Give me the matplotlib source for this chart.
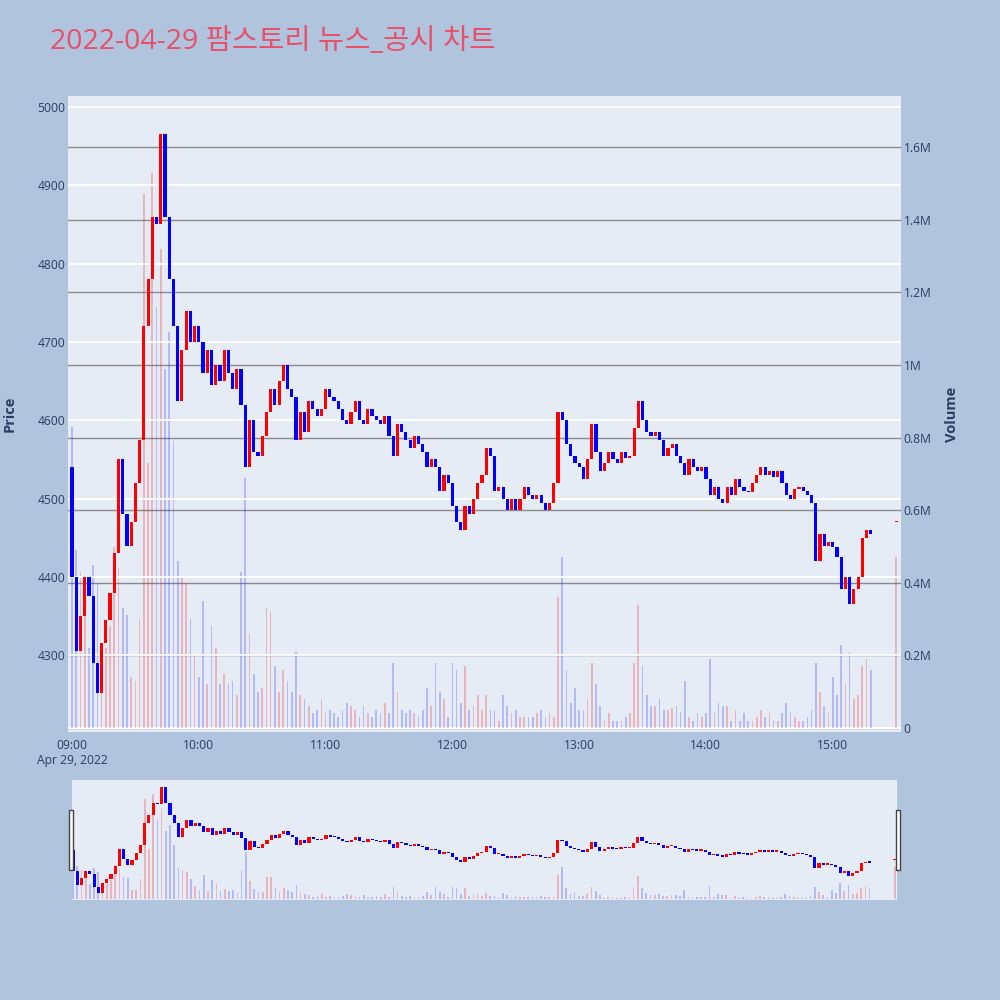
import numpy as np
import matplotlib
matplotlib.use('Agg')
import matplotlib.pyplot as plt
from matplotlib.ticker import FuncFormatter
from matplotlib.patches import Rectangle

plt.rcParams['font.family'] = ['Open Sans', 'Noto Sans CJK KR', 'DejaVu Sans']

# 2-minute candles, 09:00 .. 15:18
first_open = 4540
closes = [
    4400, 4305, 4350, 4400, 4375, 4290, 4252, 4315, 4345, 4380,
    4430, 4550, 4480, 4440, 4470, 4520, 4575, 4720, 4780, 4860,
    4850, 4965, 4860, 4780, 4720, 4625, 4690, 4740, 4700, 4720,
    4700, 4660, 4690, 4645, 4670, 4650, 4690, 4660, 4640, 4665,
    4620, 4540, 4600, 4560, 4555, 4580, 4610, 4640, 4620, 4650,
    4670, 4640, 4630, 4575, 4610, 4585, 4625, 4615, 4605, 4615,
    4640, 4630, 4625, 4615, 4600, 4595, 4610, 4625, 4600, 4595,
    4615, 4605, 4600, 4595, 4605, 4580, 4555, 4595, 4585, 4575,
    4565, 4580, 4570, 4560, 4540, 4550, 4540, 4510, 4530, 4520,
    4490, 4470, 4460, 4490, 4480, 4500, 4520, 4530, 4565, 4555,
    4510, 4515, 4500, 4485, 4500, 4485, 4500, 4515, 4505, 4500,
    4505, 4495, 4485, 4495, 4520, 4610, 4600, 4570, 4555, 4545,
    4540, 4525, 4550, 4595, 4560, 4535, 4545, 4560, 4550, 4545,
    4560, 4552, 4555, 4590, 4625, 4600, 4585, 4580, 4585, 4575,
    4555, 4565, 4570, 4555, 4545, 4530, 4550, 4540, 4535, 4540,
    4525, 4505, 4515, 4500, 4495, 4515, 4505, 4525, 4515, 4510,
    4508, 4520, 4530, 4540, 4530, 4535, 4528, 4535, 4520, 4505,
    4500, 4512, 4515, 4510, 4505, 4495, 4420, 4455, 4440, 4445,
    4438, 4425, 4385, 4400, 4365, 4385, 4400, 4450, 4460, 4455,
]
# volume in millions of shares
volumes = [
    0.83, 0.49, 0.43, 0.40, 0.22, 0.45, 0.40, 0.20, 0.22, 0.28,
    0.50, 0.44, 0.33, 0.31, 0.14, 0.13, 0.30, 1.47, 0.73, 1.53,
    1.16, 1.32, 0.99, 1.09, 0.79, 0.46, 0.42, 0.40, 0.30, 0.20,
    0.14, 0.35, 0.12, 0.28, 0.22, 0.12, 0.15, 0.12, 0.13, 0.09,
    0.43, 0.69, 0.26, 0.15, 0.10, 0.11, 0.33, 0.32, 0.17, 0.10,
    0.16, 0.13, 0.10, 0.21, 0.09, 0.08, 0.06, 0.04, 0.05, 0.08,
    0.04, 0.05, 0.04, 0.03, 0.05, 0.07, 0.06, 0.05, 0.03, 0.06,
    0.04, 0.03, 0.05, 0.04, 0.07, 0.04, 0.18, 0.10, 0.05, 0.04,
    0.05, 0.04, 0.03, 0.05, 0.11, 0.06, 0.18, 0.10, 0.08, 0.03,
    0.18, 0.16, 0.07, 0.17, 0.05, 0.06, 0.09, 0.05, 0.09, 0.05,
    0.05, 0.02, 0.09, 0.06, 0.04, 0.05, 0.03, 0.03, 0.03, 0.03,
    0.04, 0.05, 0.03, 0.04, 0.03, 0.36, 0.47, 0.16, 0.07, 0.11,
    0.05, 0.05, 0.08, 0.18, 0.12, 0.06, 0.02, 0.04, 0.02, 0.02,
    0.02, 0.03, 0.04, 0.18, 0.34, 0.17, 0.09, 0.06, 0.06, 0.08,
    0.05, 0.05, 0.055, 0.06, 0.045, 0.13, 0.03, 0.02, 0.04, 0.03,
    0.04, 0.19, 0.04, 0.07, 0.06, 0.06, 0.02, 0.05, 0.02, 0.04,
    0.02, 0.02, 0.03, 0.05, 0.03, 0.04, 0.02, 0.02, 0.04, 0.07,
    0.045, 0.03, 0.02, 0.02, 0.03, 0.05, 0.18, 0.10, 0.06, 0.04,
    0.14, 0.09, 0.23, 0.12, 0.21, 0.08, 0.09, 0.17, 0.19, 0.16,
]
step = 2
# closing auction at 15:30
auction_minute = 390
auction_price = 4470
auction_volume = 0.47

hour_ticks = [0, 60, 120, 180, 240, 300, 360]
hour_labels = ['09:00\nApr 29, 2022', '10:00', '11:00', '12:00', '13:00', '14:00', '15:00']
price_ticks = [4300, 4400, 4500, 4600, 4700, 4800, 4900, 5000]
vol_ticks = [0, 0.2, 0.4, 0.6, 0.8, 1.0, 1.2, 1.4, 1.6]
title = '2022-04-29 팜스토리 뉴스_공시 차트'

closes = np.array(closes, dtype=float)
volumes = np.array(volumes)
minutes = np.arange(len(closes)) * step
opens = np.r_[first_open, closes[:-1]]

m_all = np.r_[minutes, auction_minute]
o_all = np.r_[opens, auction_price]
c_all = np.r_[closes, auction_price]
v_all = np.r_[volumes, auction_volume]
up = c_all >= o_all

RED, BLUE = '#ff0000', '#0000ff'
cand_col = np.where(up, RED, BLUE)
vol_col = [(1, 0, 0, 0.24) if u else (0, 0, 1, 0.21) for u in up]
BG = '#E5ECF6'
TXT = '#2a3f5f'


def draw(ax_v, ax_p, min_body):
    ax_v.bar(m_all, v_all, width=0.8, color=vol_col, linewidth=0, zorder=2)
    lo = np.minimum(o_all, c_all)
    h = np.maximum(np.abs(c_all - o_all), min_body)
    ax_p.bar(m_all, h, bottom=lo, width=1.5, color=cand_col, linewidth=0, zorder=3)
    ax_v.set_ylim(-0.011, 1.741)
    ax_p.set_ylim(4202, 5014)
    for a in (ax_v, ax_p):
        for s in a.spines.values():
            s.set_visible(False)


fig = plt.figure(figsize=(10, 10), dpi=100, facecolor='#B0C4DE')

ax = fig.add_axes([0.068, 0.268, 0.833, 0.636], facecolor=BG)
axp = ax.twinx()
draw(ax, axp, 2)
ax.set_xlim(-1.9, 392.3)

ax.yaxis.tick_right()
ax.yaxis.set_label_position('right')
axp.yaxis.tick_left()
axp.yaxis.set_label_position('left')

ax.set_yticks(vol_ticks)
ax.yaxis.set_major_formatter(FuncFormatter(
    lambda v, p: '0' if v == 0 else ('1M' if abs(v - 1) < 1e-9 else f'{v:.1f}M')))
axp.set_yticks(price_ticks)
ax.set_xticks(hour_ticks)
ax.set_xticklabels(hour_labels)

ax.grid(axis='y', color='#8a8a8a', lw=1)
ax.set_axisbelow(True)
axp.grid(axis='y', color='white', lw=1.3, zorder=1)
axp.set_axisbelow(True)
ax.axhline(0, color='white', lw=1.5, zorder=1)

ax.tick_params(axis='y', length=0, pad=2, labelsize=8.7, labelcolor=TXT)
ax.tick_params(axis='x', length=0, pad=5, labelsize=8.7, labelcolor=TXT)
axp.tick_params(axis='y', length=0, pad=2, labelsize=8.7, labelcolor=TXT)

axp.set_ylabel('Price', fontsize=10.5, fontweight='bold', color=TXT)
axp.yaxis.set_label_coords(-0.062, 0.5)
ax.set_ylabel('Volume', fontsize=10.5, fontweight='bold', color=TXT)
ax.yaxis.set_label_coords(1.053, 0.5)

# range slider
axs = fig.add_axes([0.072, 0.100, 0.825, 0.120], facecolor=BG)
axsp = axs.twinx()
draw(axs, axsp, 9)
axs.set_xlim(-0.5, 391)
for a in (axs, axsp):
    a.set_xticks([])
    a.set_yticks([])

for hx in (0.0685, 0.8955):
    fig.patches.append(Rectangle((hx, 0.130), 0.0045, 0.060, transform=fig.transFigure,
                                 facecolor='white', edgecolor='#444444', lw=1))

fig.text(0.05, 0.958, title, fontsize=20.5, color='#e8506a', ha='left', va='center')

fig.savefig('out.png', dpi=100, facecolor=fig.get_facecolor())
